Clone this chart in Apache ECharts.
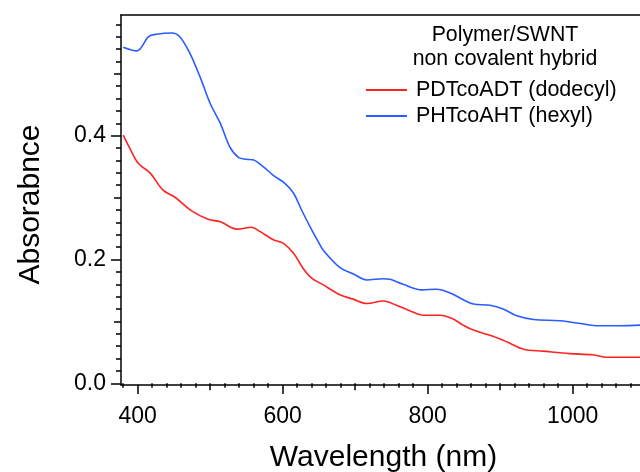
<!DOCTYPE html>
<html>
<head>
<meta charset="utf-8">
<script src="https://cdn.jsdelivr.net/npm/echarts@6/dist/echarts.min.js"></script>
<style>
html,body{margin:0;padding:0;background:#fff;}
#chart{width:640px;height:472px;}
</style>
</head>
<body>
<div id="chart"></div>
<script>
// ---- data ----
const wlDodecyl = [380,389,401,417,435,451,474,497,514,537,557,569,587,601,615,628,640,656,679,697,716,739,757,776,794,817,833,849,863,890,909,932,959,996,1028,1047,1093];
const absDodecyl = [0.401,0.380,0.355,0.340,0.312,0.301,0.279,0.265,0.261,0.249,0.252,0.245,0.232,0.226,0.210,0.186,0.170,0.159,0.143,0.136,0.129,0.133,0.126,0.117,0.110,0.110,0.105,0.094,0.086,0.076,0.067,0.055,0.052,0.048,0.046,0.042,0.042];
const wlHexyl = [380,399,415,426,447,458,472,486,500,514,527,539,550,559,573,587,603,615,626,640,649,656,679,697,716,739,748,766,792,812,831,849,863,886,904,923,946,982,1019,1033,1065,1093];
const absHexyl = [0.543,0.537,0.560,0.564,0.566,0.560,0.533,0.495,0.452,0.420,0.382,0.365,0.362,0.361,0.350,0.336,0.323,0.307,0.280,0.248,0.229,0.215,0.187,0.177,0.167,0.169,0.168,0.160,0.151,0.152,0.146,0.135,0.128,0.126,0.120,0.109,0.103,0.101,0.095,0.093,0.093,0.094];

const xMajorTicks = [400,600,800,1000];
const xMidTicks = [500,700,900,1100];
const xMinorTicks = [380,420,440,460,480,520,540,560,580,620,640,660,680,720,740,760,780,820,840,860,880,920,940,960,980,1020,1040,1060,1080];
const yMajorTicks = [0,0.2,0.4];
const yMidTicks = [0.1,0.3,0.5];
const yMinorTicks = [0.02,0.04,0.06,0.08,0.12,0.14,0.16,0.18,0.22,0.24,0.26,0.28,0.32,0.34,0.36,0.38,0.42,0.44,0.46,0.48,0.52,0.54,0.56,0.58];

const seriesNames = ['PDTcoADT (dodecyl)','PHTcoAHT (hexyl)'];
const legendHeading = 'Polymer/SWNT\nnon covalent hybrid';

const FONT = '"Liberation Sans", Arial, sans-serif';
const X_MIN = 376.97, X_MAX = 1101.1;
const Y_MIN = -0.00275, Y_MAX = 0.595;
const lineCol = '#000';

function zip(xs, ys){ return xs.map((x,i)=>[x, ys[i]]); }

function tickAxis(base, vals, len, extra){
  return Object.assign({
    type:'value', min: base.min, max: base.max, position: base.position,
    axisLine:{show:false},
    axisTick:{show:true, inside:false, length:len, customValues: vals, lineStyle:{color:lineCol, width:1.5}},
    axisLabel:{show:false},
    splitLine:{show:false}
  }, extra||{});
}

const chart = echarts.init(document.getElementById('chart'), null, {renderer:'canvas'});
const option = {
  animation:false,
  backgroundColor:'#fff',
  textStyle:{fontFamily:FONT},
  grid:{left:121, top:15, width:525, height:370, outerBoundsMode:'none', containLabel:false},
  title:{
    text: legendHeading,
    left: 505, top: 23.5, padding:0,
    textAlign:'center',
    textStyle:{fontFamily:FONT, fontSize:21.3, fontWeight:'normal', color:'#000', lineHeight:24}
  },
  legend:{
    orient:'vertical',
    left: 366, top: 79,
    icon:'rect',
    itemWidth:41, itemHeight:2, itemGap:4,
    padding:0,
    data: seriesNames,
    textStyle:{fontFamily:FONT, fontSize:21.5, color:'#000', padding:[0,0,0,4]}
  },
  xAxis:[
    {
      type:'value', min:X_MIN, max:X_MAX, position:'bottom',
      name:'Wavelength (nm)', nameLocation:'middle', nameGap:58,
      nameTextStyle:{fontFamily:FONT, fontSize:30, color:'#000'},
      axisLine:{show:true, onZero:false, lineStyle:{color:lineCol, width:1.5}},
      axisTick:{show:true, length:9, customValues:xMajorTicks, lineStyle:{color:lineCol, width:1.5}},
      axisLabel:{show:true, customValues:xMajorTicks, fontFamily:FONT, fontSize:23, color:'#000', margin:20,
        formatter:(v)=>String(Math.round(v))},
      splitLine:{show:false}
    },
    tickAxis({min:X_MIN,max:X_MAX,position:'bottom'}, xMidTicks, 7),
    tickAxis({min:X_MIN,max:X_MAX,position:'bottom'}, xMinorTicks, 4.5),
    {
      type:'value', min:X_MIN, max:X_MAX, position:'top',
      axisLine:{show:true, onZero:false, lineStyle:{color:lineCol, width:1.5}},
      axisTick:{show:false}, axisLabel:{show:false}, splitLine:{show:false}
    }
  ],
  yAxis:[
    {
      type:'value', min:Y_MIN, max:Y_MAX, position:'left',
      name:'Absorabnce', nameLocation:'middle', nameGap:75,
      nameTextStyle:{fontFamily:FONT, fontSize:30, color:'#000', padding:[0,9,0,0]},
      axisLine:{show:true, onZero:false, lineStyle:{color:lineCol, width:1.5}},
      axisTick:{show:true, length:10, customValues:yMajorTicks, lineStyle:{color:lineCol, width:1.5}},
      axisLabel:{show:true, customValues:yMajorTicks, fontFamily:FONT, fontSize:23, color:'#000', margin:15,
        formatter:(v)=>v.toFixed(1)},
      splitLine:{show:false}
    },
    tickAxis({min:Y_MIN,max:Y_MAX,position:'left'}, yMidTicks, 7),
    tickAxis({min:Y_MIN,max:Y_MAX,position:'left'}, yMinorTicks, 5)
  ],
  series:[
    {
      name: seriesNames[0], type:'line', xAxisIndex:0, yAxisIndex:0,
      data: zip(wlDodecyl, absDodecyl),
      symbol:'none', smooth:0.35,
      lineStyle:{color:'#ff2222', width:1.6}, itemStyle:{color:'#ff2222'}
    },
    {
      name: seriesNames[1], type:'line', xAxisIndex:0, yAxisIndex:0,
      data: zip(wlHexyl, absHexyl),
      symbol:'none', smooth:0.35,
      lineStyle:{color:'#2a5cff', width:1.6}, itemStyle:{color:'#2a5cff'}
    }
  ]
};
chart.setOption(option);
</script>
</body>
</html>
